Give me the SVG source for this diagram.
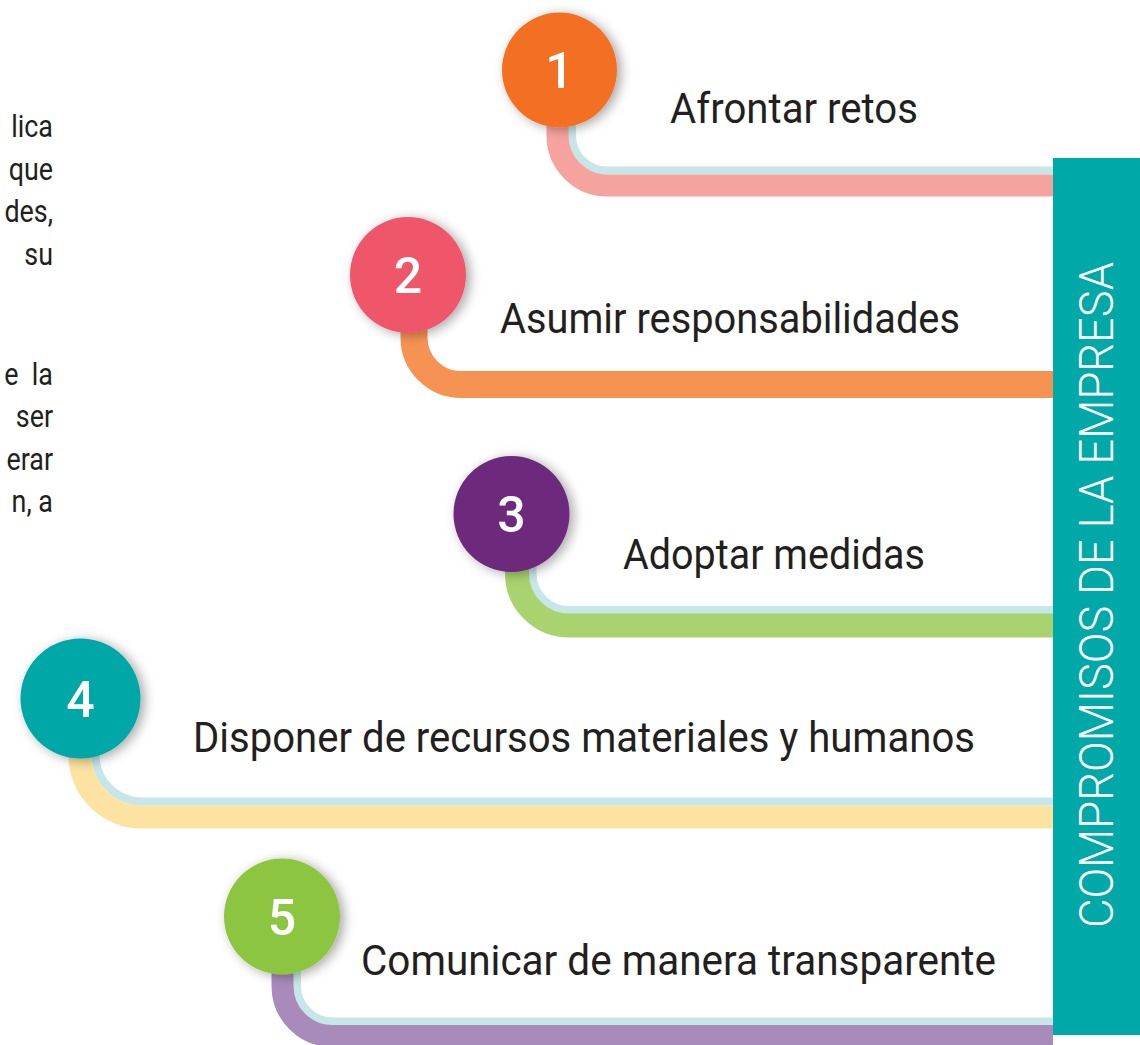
<svg xmlns="http://www.w3.org/2000/svg" width="1140" height="1045" viewBox="0 0 1140 1045">
  <defs>
    <filter id="shadow" x="-40%" y="-40%" width="180%" height="180%">
      <feDropShadow dx="4" dy="2" stdDeviation="6" flood-color="#000" flood-opacity="0.35"/>
    </filter>
    <style>
      .line { fill: none; stroke-linecap: butt; }
      .blue { stroke: #C6E6E8; stroke-width: 8; }
      .num { font-family: Roboto, "Liberation Sans", sans-serif; font-size: 50px; font-weight: 500; fill: #FFFFFF; text-anchor: middle; }
      .label { font-family: Roboto, "Liberation Sans", sans-serif; font-size: 42px; font-weight: 400; fill: #231F20; }
      .side { font-family: Roboto, "Liberation Sans", sans-serif; font-size: 32px; fill: #231F20; text-anchor: end; }
      .title { font-family: Roboto, "Liberation Sans", sans-serif; font-size: 49px; font-weight: 300; fill: #FFFFFF; }
    </style>
  </defs>
  <rect width="1140" height="1045" fill="#FFFFFF"/>

  <g id="side-text" transform="translate(53,0) scale(0.84,1)">
    <text class="side" x="0" y="137">lica</text>
    <text class="side" x="0" y="180">que</text>
    <text class="side" x="0" y="222">des,</text>
    <text class="side" x="0" y="265">su</text>
    <text class="side" x="0" y="385" xml:space="preserve">e  la</text>
    <text class="side" x="0" y="427">ser</text>
    <text class="side" x="0" y="470">erar</text>
    <text class="side" x="0" y="512">n, a</text>
  </g>

  <g id="connectors">
    <path class="line blue" d="M572,100 V135.5 A35,35 0 0 0 607,170.5 H1053"/>
    <path class="line" stroke="#F6A3A0" stroke-width="22" d="M557.5,100 V135.5 A50,50 0 0 0 607.5,185.5 H1053"/>

    <path class="line" stroke="#F69352" stroke-width="27" d="M414,300 V337.5 A47,47 0 0 0 461,384.5 H1053"/>

    <path class="line blue" d="M532.5,540 V573.5 A36.5,36.5 0 0 0 569,610 H1053"/>
    <path class="line" stroke="#A9D36E" stroke-width="24" d="M517,540 V573.5 A52,52 0 0 0 569,625.5 H1053"/>

    <path class="line blue" d="M95.5,720 V755 A46.5,46.5 0 0 0 142,801.5 H1053"/>
    <path class="line" stroke="#FDE3A2" stroke-width="23" d="M80,720 V755 A62,62 0 0 0 142,817 H1053"/>

    <path class="line blue" d="M297,940 V986 A35.5,35.5 0 0 0 332.5,1021.5 H1053"/>
    <path class="line" stroke="#A98BBB" stroke-width="22" d="M282.5,940 V986 A50,50 0 0 0 332.5,1036 H1053"/>
  </g>

  <g id="node-1">
    <circle cx="559.5" cy="70" r="57.5" fill="#F37021" filter="url(#shadow)"/>
    <text class="num" x="559.5" y="88">1</text>
    <text class="label" x="670" y="123" textLength="248" lengthAdjust="spacingAndGlyphs">Afrontar retos</text>
  </g>
  <g id="node-2">
    <circle cx="408" cy="275" r="58" fill="#F0566A" filter="url(#shadow)"/>
    <text class="num" x="408" y="293">2</text>
    <text class="label" x="500" y="333" textLength="460" lengthAdjust="spacingAndGlyphs">Asumir responsabilidades</text>
  </g>
  <g id="node-3">
    <circle cx="511.5" cy="514" r="58" fill="#6D2A7C" filter="url(#shadow)"/>
    <text class="num" x="511.5" y="532">3</text>
    <text class="label" x="623" y="569" textLength="302" lengthAdjust="spacingAndGlyphs">Adoptar medidas</text>
  </g>
  <g id="node-4">
    <circle cx="80.5" cy="698.5" r="60" fill="#00A7A7" filter="url(#shadow)"/>
    <text class="num" x="80.5" y="717">4</text>
    <text class="label" x="193" y="752" textLength="782" lengthAdjust="spacingAndGlyphs">Disponer de recursos materiales y humanos</text>
  </g>
  <g id="node-5">
    <circle cx="282" cy="916.5" r="58" fill="#8CC63F" filter="url(#shadow)"/>
    <text class="num" x="282" y="935">5</text>
    <text class="label" x="361" y="975" textLength="635" lengthAdjust="spacingAndGlyphs">Comunicar de manera transparente</text>
  </g>

  <g id="title-bar">
    <rect x="1053" y="158" width="87" height="877" fill="#00A9A8"/>
    <text class="title" transform="translate(1113,928) rotate(-90)" x="0" y="0" textLength="666" lengthAdjust="spacingAndGlyphs">COMPROMISOS DE LA EMPRESA</text>
  </g>
</svg>
